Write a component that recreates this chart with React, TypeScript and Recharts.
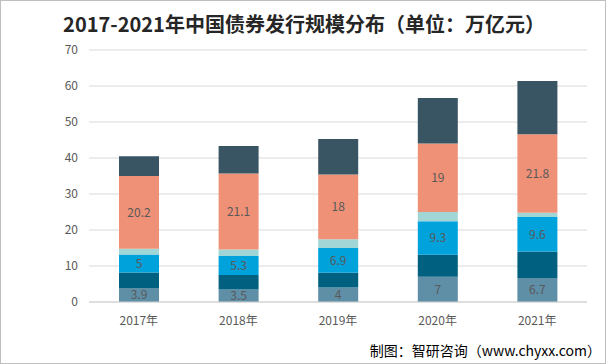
import { BarChart, Bar, XAxis, YAxis, CartesianGrid, LabelList } from 'recharts'

// ─── Data ─────────────────────────────────────────────────────────────────────

const years = ['2017年', '2018年', '2019年', '2020年', '2021年']
const seriesA = [3.9, 3.5, 4, 7, 6.7]
const seriesB = [4.3, 4.0, 4.1, 6.1, 7.3]
const seriesC = [5, 5.3, 6.9, 9.3, 9.6]
const seriesD = [1.6, 1.8, 2.4, 2.6, 1.2]
const seriesE = [20.2, 21.1, 18, 19, 21.8]
const seriesF = [5.5, 7.6, 9.9, 12.7, 14.8]
const yTicks = [0, 10, 20, 30, 40, 50, 60, 70]

const data = years.map((year, i) => ({
  year,
  a: seriesA[i],
  b: seriesB[i],
  c: seriesC[i],
  d: seriesD[i],
  e: seriesE[i],
  f: seriesF[i],
}))

const FONT = '"Noto Sans CJK SC", "Noto Sans", sans-serif'
const labelStyle = { fill: '#595959', fontSize: 12, fontFamily: FONT }
const tickStyle = { fill: '#595959', fontSize: 12, fontFamily: FONT }

// ─── Component ────────────────────────────────────────────────────────────────

export default function App() {
  return (
    <div
      style={{
        position: 'absolute',
        left: 0,
        top: 0,
        width: 606,
        height: 364,
        background: '#fff',
        border: '1px solid #bfbfbf',
        boxSizing: 'border-box',
        overflow: 'hidden',
      }}
    >
      <div
        style={{
          position: 'absolute',
          top: 8,
          left: 0,
          width: 606,
          textAlign: 'center',
          fontFamily: FONT,
          fontWeight: 700,
          fontSize: 20,
          color: '#262626',
        }}
      >
        2017-2021年中国债券发行规模分布（单位：万亿元）
      </div>

      <div style={{ position: 'absolute', left: -1, top: -1 }}>
        <BarChart
          width={606}
          height={364}
          data={data}
          margin={{ top: 50, right: 19, bottom: 32, left: 29 }}
        >
          <CartesianGrid vertical={false} stroke="#d9d9d9" />
          <XAxis
            dataKey="year"
            height={30}
            tickLine={false}
            axisLine={{ stroke: '#d0d0d0' }}
            tick={tickStyle}
            tickMargin={8}
          />
          <YAxis
            width={60}
            domain={[0, 70]}
            ticks={yTicks}
            tickLine={false}
            axisLine={false}
            tick={tickStyle}
            tickMargin={5}
          />
          <Bar dataKey="a" stackId="s" fill="#5f8fa7" barSize={40} isAnimationActive={false}>
            <LabelList dataKey="a" position="center" style={labelStyle} />
          </Bar>
          <Bar dataKey="b" stackId="s" fill="#00607f" barSize={40} isAnimationActive={false} />
          <Bar dataKey="c" stackId="s" fill="#00a2dc" barSize={40} isAnimationActive={false}>
            <LabelList dataKey="c" position="center" style={labelStyle} />
          </Bar>
          <Bar dataKey="d" stackId="s" fill="#a0d7d6" barSize={40} isAnimationActive={false} />
          <Bar dataKey="e" stackId="s" fill="#ef9177" barSize={40} isAnimationActive={false}>
            <LabelList dataKey="e" position="center" style={labelStyle} />
          </Bar>
          <Bar dataKey="f" stackId="s" fill="#395563" barSize={40} isAnimationActive={false} />
        </BarChart>
      </div>

      <div
        style={{
          position: 'absolute',
          right: 4,
          bottom: 3,
          fontFamily: FONT,
          fontSize: 14,
          color: '#000',
        }}
      >
        制图：智研咨询（www.chyxx.com）
      </div>
    </div>
  )
}
